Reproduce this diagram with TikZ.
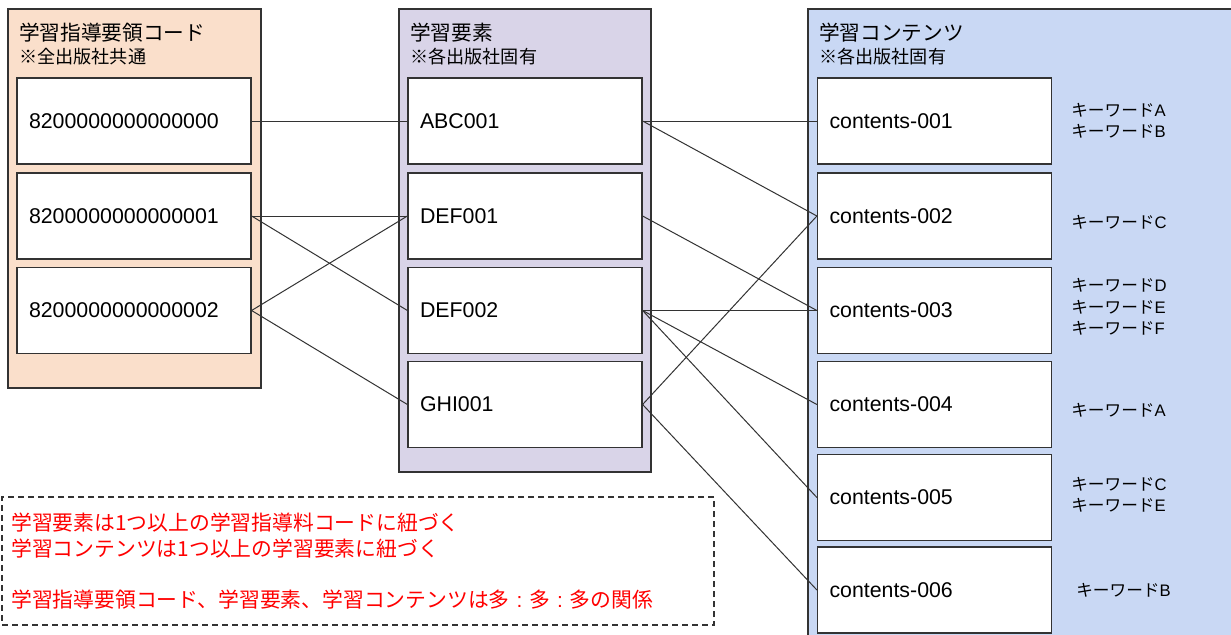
\documentclass[tikz,border=0pt]{standalone}
\usepackage{fontspec}
\setmainfont{Liberation Sans}
\newfontfamily\jp{Noto Sans CJK JP}
\definecolor{peach}{HTML}{FADFCB}
\definecolor{lav}{HTML}{D9D4E8}
\definecolor{blu}{HTML}{C9D8F4}
\definecolor{edge}{HTML}{333333}
\definecolor{redtxt}{HTML}{FF0000}
\newcommand{\mycolon}{{\rmfamily\ :\ }}
\begin{document}
\begin{tikzpicture}[x=0.75pt,y=-0.75pt,
  groupbox/.style={draw=edge, line width=0.9pt},
  itembox/.style={draw=edge, fill=white, line width=0.9pt, minimum height=64.5pt,
    text width=157.5pt, inner xsep=9pt, inner ysep=0pt, align=left,
    font=\fontsize{16}{19}\selectfont},
  title/.style={anchor=west, inner sep=0pt, font=\jp\fontsize{15.5}{18}\selectfont},
  subtitle/.style={anchor=west, inner sep=0pt, font=\jp\fontsize{13.6}{15}\selectfont},
  kw/.style={anchor=west, inner sep=0pt, align=left, font=\fontsize{12.5}{16}\selectfont},
  conn/.style={draw=edge, line width=0.75pt},
  notebox/.style={draw=edge, line width=1.5pt, dash pattern=on 4.5pt off 3pt,
    minimum width=534pt, minimum height=96pt, text width=520pt, inner xsep=7pt,
    align=left, text=redtxt, font=\jp\fontsize{15.6}{19.3}\selectfont}]
\clip (0,0) rectangle (1231,635);
\fill[white] (0,0) rectangle (1231,635);
% groups
\draw[groupbox, fill=peach] (8,9) rectangle (261,388);
\draw[groupbox, fill=lav] (399,9) rectangle (651,472);
\draw[groupbox, fill=blu] (808,9) rectangle (1245,650);
\node[title] (tl) at (19,33) {学習指導要領コード};
\node[subtitle] (sl) at (19,57) {※全出版社共通};
\node[title] (tm) at (410,33) {学習要素};
\node[subtitle] (sm) at (410,57) {※各出版社固有};
\node[title] (tr) at (819,33) {学習コンテンツ};
\node[subtitle] (sr) at (819,57) {※各出版社固有};
% left items
\node[itembox] (l1) at (134,121) {8200000000000000};
\node[itembox] (l2) at (134,216) {8200000000000001};
\node[itembox] (l3) at (134,310.5) {8200000000000002};
% middle items
\node[itembox] (m1) at (525,121) {ABC001};
\node[itembox] (m2) at (525,216) {DEF001};
\node[itembox] (m3) at (525,310.5) {DEF002};
\node[itembox] (m4) at (525,404.5) {GHI001};
% right items
\node[itembox] (r1) at (934.5,121) {contents-001};
\node[itembox] (r2) at (934.5,216) {contents-002};
\node[itembox] (r3) at (934.5,310.5) {contents-003};
\node[itembox] (r4) at (934.5,404.5) {contents-004};
\node[itembox] (r5) at (934.5,497.5) {contents-005};
\node[itembox] (r6) at (934.5,590) {contents-006};
% keywords
\node[kw] (k1) at (1071,121) {{\jp キーワード}A\\{\jp キーワード}B};
\node[kw] (k2) at (1071,222) {{\jp キーワード}C};
\node[kw] (k3) at (1071,307) {{\jp キーワード}D\\{\jp キーワード}E\\{\jp キーワード}F};
\node[kw] (k4) at (1071,410) {{\jp キーワード}A};
\node[kw] (k5) at (1071,494.5) {{\jp キーワード}C\\{\jp キーワード}E};
\node[kw] (k6) at (1076,590) {{\jp キーワード}B};
% connectors left-middle
\draw[conn] (l1.east) -- (m1.west);
\draw[conn] (l2.east) -- (m2.west);
\draw[conn] (l2.east) -- (m3.west);
\draw[conn] (l3.east) -- (m2.west);
\draw[conn] (l3.east) -- (m4.west);
% connectors middle-right
\draw[conn] (m1.east) -- (r1.west);
\draw[conn] (m1.east) -- (r2.west);
\draw[conn] (m2.east) -- (r3.west);
\draw[conn] (m3.east) -- (r3.west);
\draw[conn] (m3.east) -- (r4.west);
\draw[conn] (m3.east) -- (r5.west);
\draw[conn] (m4.east) -- (r2.west);
\draw[conn] (m4.east) -- (r6.west);
% note
\node[notebox] (note) at (358,561) {学習要素は1つ以上の学習指導料コードに紐づく\\学習コンテンツは1つ以上の学習要素に紐づく\\[19.3pt]学習指導要領コード、学習要素、学習コンテンツは多\mycolon 多\mycolon 多の関係};
\end{tikzpicture}
\end{document}
